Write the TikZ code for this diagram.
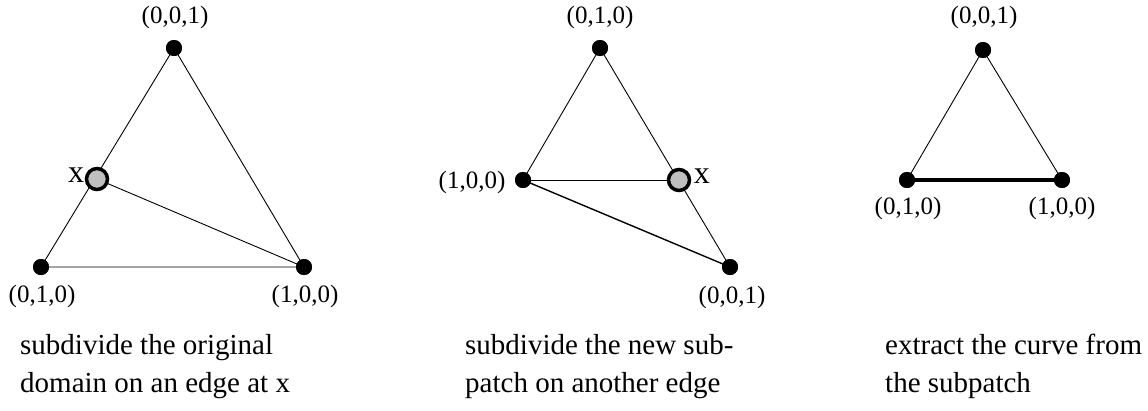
\documentclass[tikz,border=0pt]{standalone}
\usepackage{fontspec}
\setmainfont{Liberation Serif}
\usetikzlibrary{positioning}
\tikzset{
    vertex/.style = {circle, fill=black, inner sep=0pt, minimum size=16pt},
    splitpt/.style = {circle, draw=black, line width=3.5pt, fill=black!25, inner sep=0pt, minimum size=21pt},
    edge/.style = {line width=0.9pt},
    coord/.style = {font=\fontsize{25}{25}\selectfont},
    xlabel/.style = {font=\fontsize{32}{32}\selectfont},
    caption/.style = {anchor=north west, align=left, inner sep=0pt, font=\fontsize{29}{38}\selectfont}
}
\begin{document}
\begin{tikzpicture}[x=1pt, y=-1pt]
    \useasboundingbox (0,0) rectangle (1148,410);
    % original domain
    \node[vertex] (a1) at (174,48) {};
    \node[vertex] (b1) at (41,267) {};
    \node[vertex] (c1) at (304,267) {};
    \coordinate (x1) at (97,179);
    \draw[edge] (a1.center) -- (b1.center) -- (c1.center) -- cycle;
    \draw[edge] (x1) -- (c1.center);
    \node[vertex] at (a1) {};
    \node[vertex] at (b1) {};
    \node[vertex] at (c1) {};
    \node[splitpt] (s1) at (x1) {};
    \node[coord] at (175,17) {(0,0,1)};
    \node[coord] at (42,296) {(0,1,0)};
    \node[coord] at (305,296) {(1,0,0)};
    \node[xlabel, left=-3pt of s1, yshift=4pt] {x};
    % new subpatch
    \node[vertex] (a2) at (600,48) {};
    \node[vertex] (b2) at (523,180) {};
    \node[vertex] (c2) at (730,267) {};
    \coordinate (x2) at (679,180);
    \draw[edge] (b2.center) -- (a2.center) -- (c2.center);
    \draw[edge] (b2.center) -- (x2);
    \draw[line width=1.4pt] (b2.center) -- (c2.center);
    \node[vertex] at (a2) {};
    \node[vertex] at (b2) {};
    \node[vertex] at (c2) {};
    \node[splitpt] (s2) at (x2) {};
    \node[coord] at (600,17) {(0,1,0)};
    \node[coord] at (472,182) {(1,0,0)};
    \node[coord] at (732,297) {(0,0,1)};
    \node[xlabel, right=-1pt of s2, yshift=4pt] {x};
    % extracted curve
    \node[vertex] (a3) at (983,50) {};
    \node[vertex] (b3) at (907,180) {};
    \node[vertex] (c3) at (1062,180) {};
    \draw[edge] (b3.center) -- (a3.center) -- (c3.center);
    \draw[line width=3.5pt] (b3.center) -- (c3.center);
    \node[vertex] at (a3) {};
    \node[vertex] at (b3) {};
    \node[vertex] at (c3) {};
    \node[coord] at (984,17) {(0,0,1)};
    \node[coord] at (908,208) {(0,1,0)};
    \node[coord] at (1062,208) {(1,0,0)};
    % captions
    \node[caption] at (20,334) {subdivide the original\\domain on an edge at x};
    \node[caption] at (465,334) {subdivide the new sub-\\patch on another edge};
    \node[caption] at (885,334) {extract the curve from\\the subpatch};
\end{tikzpicture}
\end{document}
